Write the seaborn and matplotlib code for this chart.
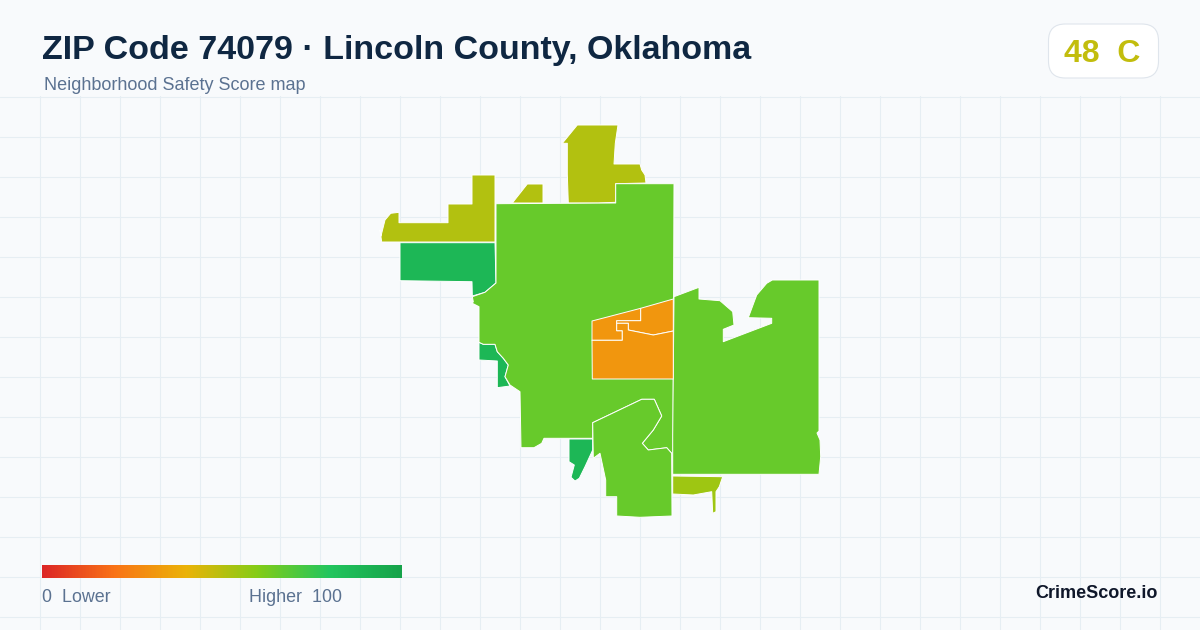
import numpy as np
import seaborn as sns
import matplotlib.pyplot as plt
from matplotlib.patches import FancyBboxPatch

# scores per area
zip_score = 48
grade = "C"
scores = {
    "west": 51, "sliver": 51, "north": 51,
    "main": 66, "south": 66, "east": 66,
    "creek_a": 88, "creek_b": 88, "creek_c": 88,
    "town_a": 31, "town_b": 31, "town_c": 31,
    "southeast": 55,
}

# area outlines
west_x = [380, 381, 385, 390.7, 399, 399, 448, 448, 472, 472, 495, 495, 381.7]
west_y = [230, 236, 220, 213.3, 212.3, 222.7, 222.7, 204, 204, 175, 175, 242, 242]
sliver_x = [512.3, 527.3, 543, 543]
sliver_y = [203, 184, 184, 203]
north_x = [562.3, 577.3, 618, 615.3, 614, 640, 641.7, 645, 646, 615.7, 615.7, 598.3, 568.3, 567.3, 567.3]
north_y = [143.3, 125, 125, 143.3, 164, 164, 170, 175, 183, 183.7, 202.3, 203, 203, 174.3, 143.3]
main_x = [496, 615.7, 615.7, 674, 673.3, 673, 671.7, 666.7, 648.3, 642.3, 653.3, 661.7, 654.3, 641.7, 592.7, 592.7,
          544, 541.7, 534, 521, 520, 510, 505, 508.3, 503.3, 497.3, 495, 483.3, 479, 479, 472.3, 473.3, 472.3, 485, 496]
main_y = [203.7, 203, 183.7, 183.7, 380, 475, 453.3, 447.7, 450, 443.3, 430, 416, 399.3, 399.3, 422.7, 438.3,
          438.3, 443.3, 447.7, 447.7, 391.7, 385, 376.7, 365, 358.3, 351.7, 344.3, 344.3, 342.3, 306.7, 303.3, 301.7, 296.7, 292.3, 283]
south_x = [592.7, 641.7, 654.3, 661.7, 653.3, 642.3, 648.3, 666.7, 671.7, 672, 640, 616.7, 616.7, 605.7, 605.7, 600, 593.3]
south_y = [422.7, 399.3, 399.3, 416, 430, 443.3, 450, 447.7, 453.3, 516, 517.3, 516, 496.7, 496.7, 480, 453.3, 458.3]
east_x = [674, 699, 699, 720, 732.7, 734, 723.3, 723.3, 771.7, 771.7, 748.3, 756.7, 766.7, 772.3, 819, 819, 817, 820, 820.7, 819, 672.7, 672.7]
east_y = [296.7, 287.3, 299, 300.7, 311.7, 325, 329.3, 341.7, 323.3, 318.3, 317.7, 295, 283.3, 280, 280, 431, 433, 440, 456.7, 474.3, 474.3, 435]
creek_a_x = [400, 495, 496, 485, 472.3, 472, 400]
creek_a_y = [242.7, 242.7, 283, 292.3, 296, 281.7, 280.7]
creek_b_x = [479, 483.3, 495, 497.3, 503.3, 508.3, 505, 510, 497.3, 497.3, 479]
creek_b_y = [342.3, 344.3, 344.3, 351.7, 358.3, 365, 376.7, 386, 387.7, 361, 360]
creek_c_x = [569, 592.7, 592.7, 585, 579.3, 575, 571, 574.3, 569]
creek_c_y = [439, 439, 450, 466.7, 478.3, 481, 477.3, 465, 461.7]
town_a_x = [592, 640.7, 640.7, 616.7, 616.7, 622.3, 622.3, 592]
town_a_y = [321, 308.3, 320.7, 320.7, 330.7, 330.7, 340.3, 340.3]
town_b_x = [640.7, 673.3, 673.3, 653.3, 628.3, 628.3, 616.7, 616.7, 640.7]
town_b_y = [308.3, 299, 331, 335, 330, 323.3, 323.3, 320.7, 320.7]
town_c_x = [592, 622.3, 622.3, 616.7, 616.7, 628.3, 628.3, 653.3, 673.3, 673.3, 592.3]
town_c_y = [340.3, 340.3, 330.7, 330.7, 323.3, 323.3, 330, 335, 331, 379, 379]
southeast_x = [672.7, 722.7, 719.3, 716, 716, 712.7, 711.7, 693.3, 672.7]
southeast_y = [476, 476.7, 486.7, 491.7, 511.7, 513.3, 491.7, 495, 494]

# drawn in this order so the inner outlines stay on top
areas = [
    ("west", west_x, west_y), ("sliver", sliver_x, sliver_y), ("north", north_x, north_y),
    ("creek_a", creek_a_x, creek_a_y), ("creek_b", creek_b_x, creek_b_y), ("creek_c", creek_c_x, creek_c_y),
    ("main", main_x, main_y), ("south", south_x, south_y), ("east", east_x, east_y),
    ("southeast", southeast_x, southeast_y),
    ("town_a", town_a_x, town_a_y), ("town_b", town_b_x, town_b_y), ("town_c", town_c_x, town_c_y),
]

ramp_colors = ["#dc2626", "#f97316", "#eab308", "#84cc16", "#22c55e", "#16a34a"]
bg = "#f8fafc"
grid_color = "#e6eef3"

sns.set_theme(style="whitegrid", rc={
    "figure.facecolor": bg,
    "axes.facecolor": bg,
    "grid.color": grid_color,
    "grid.linewidth": 0.8,
})
plt.rcParams["font.family"] = ["Liberation Sans", "DejaVu Sans"]

cmap = sns.blend_palette(ramp_colors, as_cmap=True)

fig = plt.figure(figsize=(12, 6.3), dpi=100)

# map axes works in picture pixels, starts under the header
ax = fig.add_axes([0, 0, 1, 534 / 630])
ax.set_xlim(0, 1200)
ax.set_ylim(630, 96)
ax.set_xticks(np.arange(40, 1200, 40))
ax.set_yticks(np.arange(97, 630, 40))
ax.tick_params(length=0, labelbottom=False, labelleft=False)
ax.grid(True)
ax.set_axisbelow(True)
sns.despine(ax=ax, left=True, bottom=True)

for name, xs, ys in areas:
    ax.fill(xs, ys, facecolor=cmap(scores[name] / 100), edgecolor="white", linewidth=0.7, joinstyle="round")

# header
fig.text(42 / 1200, 1 - 51 / 630, "ZIP Code 74079 · Lincoln County, Oklahoma", fontsize=24.45,
         fontweight="bold", color="#0f2742", va="center", ha="left")
fig.text(44 / 1200, 1 - 86 / 630, "Neighborhood Safety Score map", fontsize=12.95,
         color="#5b7291", va="center", ha="left")

# score badge
badge = FancyBboxPatch((1048.5 / 1200, 1 - 78 / 630), 110 / 1200, 54 / 630, transform=fig.transFigure,
                       boxstyle="round,pad=0,rounding_size=0.014", mutation_aspect=1.9,
                       facecolor="white", edgecolor="#dfe5ec", linewidth=0.8)
fig.add_artist(badge)
fig.text(1102.5 / 1200, 1 - 54 / 630, f"{zip_score}  {grade}", fontsize=23, fontweight="bold",
         color=cmap(zip_score / 100), va="center", ha="center")

# legend ramp
legend_ax = fig.add_axes([42 / 1200, 1 - 578 / 630, 360 / 1200, 13 / 630])
ramp = np.linspace(0, 100, 361).reshape(1, -1)
sns.heatmap(ramp, ax=legend_ax, cmap=cmap, vmin=0, vmax=100, cbar=False, xticklabels=False, yticklabels=False)

fig.text(42 / 1200, 1 - 598 / 630, "0  Lower", fontsize=12.9, color="#5b7291", va="center", ha="left")
fig.text(249 / 1200, 1 - 598 / 630, "Higher  100", fontsize=12.9, color="#5b7291", va="center", ha="left")
fig.text(1158 / 1200, 1 - 594 / 630, "CrimeScore.io", fontsize=13, fontweight="bold",
         color="#0f172a", va="center", ha="right")

fig.savefig("out.png", dpi=100)
